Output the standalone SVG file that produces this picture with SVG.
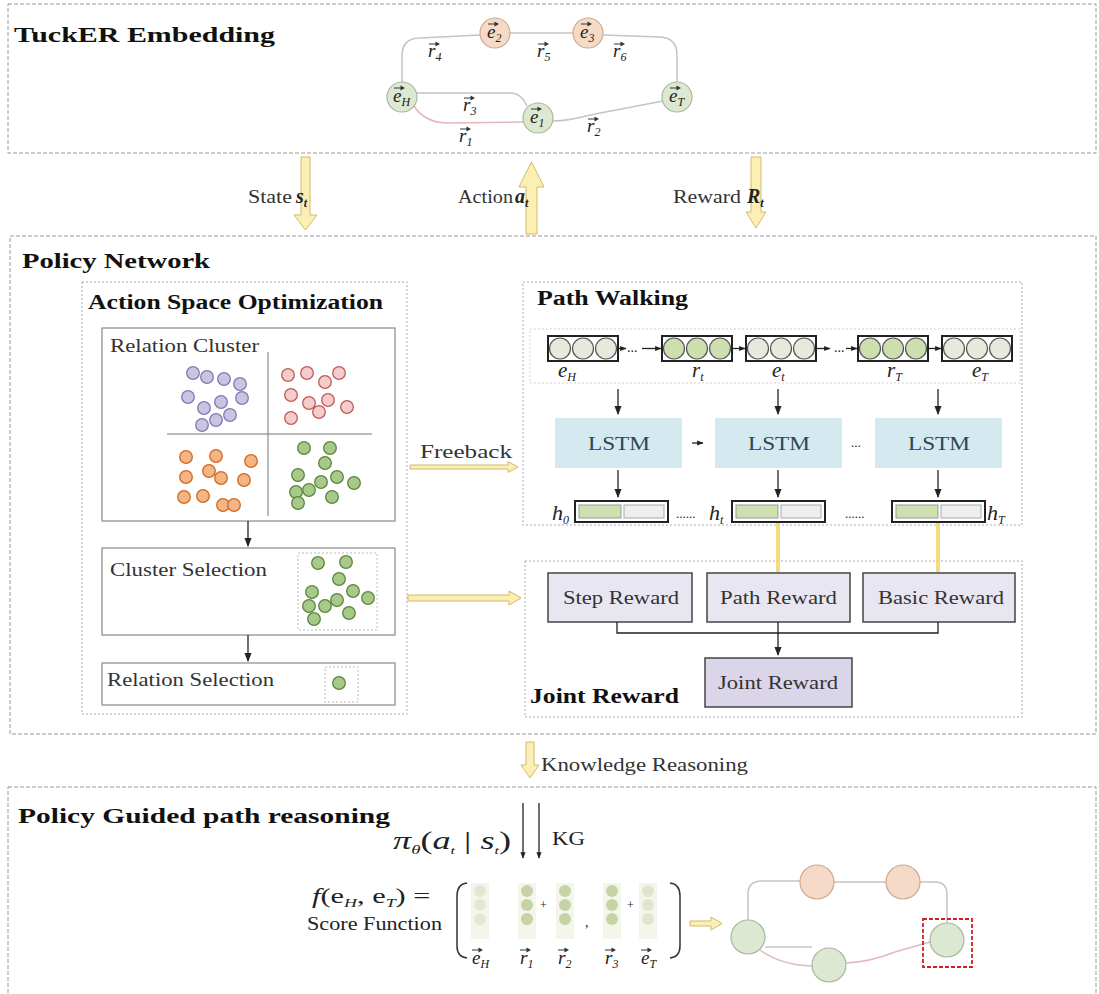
<svg xmlns="http://www.w3.org/2000/svg" xmlns:xlink="http://www.w3.org/1999/xlink" width="1099" height="994" viewBox="0 0 1099 994" font-family="'Liberation Serif', 'Times New Roman', serif">
<style>
text{font-family:"Liberation Serif","Times New Roman",serif;fill:#222}
.ttl{font-weight:bold;font-size:22px;fill:#111}
.stl{font-weight:bold;font-size:20px;fill:#111}
.lab{font-size:18px;fill:#333}
.it{font-style:italic}
.sub{font-size:12px}
.outer{fill:none;stroke:#9a9a9a;stroke-width:1;stroke-dasharray:4 2}
.inner{fill:none;stroke:#aaa;stroke-width:1;stroke-dasharray:2 2}
.sbox{fill:#fff;stroke:#888;stroke-width:1.2}
.dbox{fill:none;stroke:#bbb;stroke-width:1;stroke-dasharray:2 2}
.gn{fill:#dde8d2;stroke:#a9b99a;stroke-width:1.2}
.on{fill:#f6dac8;stroke:#cfa98f;stroke-width:1.2}
.edge{fill:none;stroke:#c4c4c4;stroke-width:1.5}
.pedge{fill:none;stroke:#e2b8c0;stroke-width:1.5}
.yarr{fill:#fcefb4;stroke:#d3b968;stroke-width:1}
.pu{fill:#c9c4e2;stroke:#8478b4;stroke-width:1.3}
.pk{fill:#f5cccc;stroke:#c05a5a;stroke-width:1.3}
.or{fill:#f3b585;stroke:#d2691e;stroke-width:1.3}
.gr{fill:#a9c98a;stroke:#5a863a;stroke-width:1.3}
.conn{fill:none;stroke:#222;stroke-width:1.3}
.lstm{fill:#d5e9f0}
.lstmt{font-size:19px;fill:#2c4654}
.chain{fill:#fff;stroke:#222;stroke-width:2}
.cl{fill:#e6eadc;stroke:#555;stroke-width:1.2}
.cg{fill:#cddfae;stroke:#555;stroke-width:1.2}
.rbox{fill:#e8e6f0;stroke:#444;stroke-width:1.5}
.jbox{fill:#dad5e8;stroke:#444;stroke-width:1.5}
.rt{font-size:19px;fill:#333}
.vl{font-style:italic;font-size:19px}
</style>
<defs>
<marker id="ah" viewBox="0 0 10 10" refX="9" refY="5" markerWidth="7" markerHeight="7" orient="auto"><path d="M0,1 L10,5 L0,9 Z" fill="#222"/></marker>
<marker id="ahs" viewBox="0 0 10 10" refX="9" refY="5" markerWidth="5" markerHeight="5" orient="auto"><path d="M0,1 L10,5 L0,9 Z" fill="#222"/></marker>
<g id="va"><path d="M0,0 H9" stroke="#333" stroke-width="1"/><path d="M6.5,-2.4 L11,0 L6.5,2.4 Z" fill="#333"/></g>
</defs>

<!-- Section frames -->
<g id="tucker-frame"><rect class="outer" x="8" y="4" width="1088" height="149"/><text class="ttl" x="14" y="42" textLength="261" lengthAdjust="spacingAndGlyphs">TuckER Embedding</text></g>
<g id="policy-frame"><rect class="outer" x="10" y="236" width="1086" height="498"/><text class="ttl" x="22" y="268" textLength="188" lengthAdjust="spacingAndGlyphs">Policy Network</text></g>
<g id="guided-frame"><rect class="outer" x="8" y="787" width="1088" height="212"/><text class="ttl" x="18" y="823" textLength="372" lengthAdjust="spacingAndGlyphs">Policy Guided path reasoning</text></g>

<!-- TuckER graph -->
<g id="tucker-edges">
<path class="edge" d="M402,82 V56 Q402,38 420,38 L480,35"/>
<path class="edge" d="M510,33 H573"/>
<path class="edge" d="M603,35 L660,37 Q677,38 677,55 V82"/>
<path class="edge" d="M417,93 L512,93 Q522,94 527,106"/>
<path class="pedge" d="M414,106 Q424,122 446,123 L523,122"/>
<path class="edge" d="M553,121 Q568,121 590,115 L663,101"/>
</g>
<g id="tucker-nodes">
<g id="t-eH"><circle class="gn" cx="402" cy="97" r="15"/><text class="vl" x="393" y="102">e<tspan class="sub" dy="4">H</tspan></text><use href="#va" x="394" y="88"/></g>
<g id="t-e2"><circle class="on" cx="495" cy="33" r="15"/><text class="vl" x="487" y="38">e<tspan class="sub" dy="4">2</tspan></text><use href="#va" x="488" y="24"/></g>
<g id="t-e3"><circle class="on" cx="588" cy="33" r="15"/><text class="vl" x="580" y="38">e<tspan class="sub" dy="4">3</tspan></text><use href="#va" x="581" y="24"/></g>
<g id="t-eT"><circle class="gn" cx="677" cy="97" r="15"/><text class="vl" x="669" y="102">e<tspan class="sub" dy="4">T</tspan></text><use href="#va" x="670" y="88"/></g>
<g id="t-e1"><circle class="gn" cx="538" cy="118" r="15"/><text class="vl" x="530" y="123">e<tspan class="sub" dy="4">1</tspan></text><use href="#va" x="531" y="109"/></g>
</g>
<g id="tucker-labels">
<text class="vl" x="428" y="57">r<tspan class="sub" dy="4">4</tspan></text><use href="#va" x="429" y="44"/>
<text class="vl" x="537" y="57">r<tspan class="sub" dy="4">5</tspan></text><use href="#va" x="538" y="44"/>
<text class="vl" x="613" y="57">r<tspan class="sub" dy="4">6</tspan></text><use href="#va" x="614" y="44"/>
<text class="vl" x="463" y="111">r<tspan class="sub" dy="4">3</tspan></text><use href="#va" x="464" y="98"/>
<text class="vl" x="459" y="142">r<tspan class="sub" dy="4">1</tspan></text><use href="#va" x="460" y="129"/>
<text class="vl" x="587" y="132">r<tspan class="sub" dy="4">2</tspan></text><use href="#va" x="588" y="119"/>
</g>

<!-- RL signals -->
<g id="signals">
<path class="yarr" d="M301,157 H310 V215 H317 L305.5,230 L294,215 H301 Z"/>
<text class="lab" x="248" y="203" textLength="44" lengthAdjust="spacingAndGlyphs">State</text>
<text class="it" x="296" y="203" font-weight="bold" font-size="20">s<tspan class="sub" dy="4">t</tspan></text>
<path class="yarr" d="M526,234 V187 H519 L531.5,162 L544,187 H537 V234 Z"/>
<text class="lab" x="458" y="203" textLength="55" lengthAdjust="spacingAndGlyphs">Action</text>
<text class="it" x="515" y="203" font-weight="bold" font-size="20">a<tspan class="sub" dy="4">t</tspan></text>
<path class="yarr" d="M751,157 H761 V212 H766 L756,228 L746,212 H751 Z"/>
<text class="lab" x="673" y="203" textLength="68" lengthAdjust="spacingAndGlyphs">Reward</text>
<text class="it" x="747" y="203" font-weight="bold" font-size="20">R<tspan class="sub" dy="4">t</tspan></text>
</g>

<!-- Action Space Optimization -->
<g id="aso">
<rect class="inner" x="82" y="282" width="325" height="432"/>
<text class="stl" x="88" y="309" textLength="295" lengthAdjust="spacingAndGlyphs">Action Space Optimization</text>
</g>
<g id="relation-cluster">
<rect class="sbox" x="102" y="328" width="293" height="193"/>
<text class="lab" x="110" y="352" fill="#444" textLength="149" lengthAdjust="spacingAndGlyphs">Relation Cluster</text>
<path d="M268,352 V516 M167,434 H372" stroke="#777" stroke-width="1" fill="none"/>
<g class="pu"><circle cx="193" cy="373" r="6.3"/><circle cx="207" cy="377" r="6.3"/><circle cx="224" cy="379" r="6.3"/><circle cx="240" cy="384" r="6.3"/><circle cx="188" cy="397" r="6.3"/><circle cx="204" cy="408" r="6.3"/><circle cx="221" cy="402" r="6.3"/><circle cx="242" cy="398" r="6.3"/><circle cx="202" cy="425" r="6.3"/><circle cx="216" cy="420" r="6.3"/><circle cx="230" cy="415" r="6.3"/></g>
<g class="pk"><circle cx="288" cy="375" r="6.3"/><circle cx="307" cy="373" r="6.3"/><circle cx="325" cy="382" r="6.3"/><circle cx="339" cy="373" r="6.3"/><circle cx="291" cy="395" r="6.3"/><circle cx="309" cy="403" r="6.3"/><circle cx="328" cy="400" r="6.3"/><circle cx="319" cy="412" r="6.3"/><circle cx="347" cy="407" r="6.3"/><circle cx="291" cy="418" r="6.3"/></g>
<g class="or"><circle cx="186" cy="457" r="6.3"/><circle cx="216" cy="456" r="6.3"/><circle cx="251" cy="461" r="6.3"/><circle cx="186" cy="477" r="6.3"/><circle cx="209" cy="471" r="6.3"/><circle cx="221" cy="478" r="6.3"/><circle cx="244" cy="480" r="6.3"/><circle cx="184" cy="497" r="6.3"/><circle cx="203" cy="496" r="6.3"/><circle cx="223" cy="505" r="6.3"/><circle cx="234" cy="505" r="6.3"/></g>
<g class="gr"><circle cx="304" cy="448" r="6.3"/><circle cx="330" cy="448" r="6.3"/><circle cx="325" cy="463" r="6.3"/><circle cx="298" cy="475" r="6.3"/><circle cx="309" cy="490" r="6.3"/><circle cx="321" cy="482" r="6.3"/><circle cx="337" cy="477" r="6.3"/><circle cx="354" cy="483" r="6.3"/><circle cx="296" cy="492" r="6.3"/><circle cx="332" cy="497" r="6.3"/><circle cx="298" cy="503" r="6.3"/></g>
</g>
<g id="cluster-selection">
<rect class="sbox" x="102" y="548" width="293" height="87"/>
<text class="lab" x="110" y="576" fill="#444" textLength="157" lengthAdjust="spacingAndGlyphs">Cluster Selection</text>
<rect class="dbox" x="298" y="553" width="79" height="77"/>
<g class="gr"><circle cx="318" cy="563" r="6.3"/><circle cx="346" cy="562" r="6.3"/><circle cx="339" cy="579" r="6.3"/><circle cx="312" cy="592" r="6.3"/><circle cx="353" cy="591" r="6.3"/><circle cx="337" cy="600" r="6.3"/><circle cx="325" cy="606" r="6.3"/><circle cx="309" cy="606" r="6.3"/><circle cx="368" cy="598" r="6.3"/><circle cx="314" cy="619" r="6.3"/><circle cx="349" cy="613" r="6.3"/></g>
</g>
<g id="relation-selection">
<rect class="sbox" x="102" y="663" width="293" height="42"/>
<text class="lab" x="107" y="686" fill="#444" textLength="167" lengthAdjust="spacingAndGlyphs">Relation Selection</text>
<rect class="dbox" x="325" y="667" width="33" height="35"/>
<circle class="gr" cx="339" cy="683" r="6.3"/>
</g>

<!-- Path Walking -->
<g id="path-walking">
<rect class="inner" x="523" y="282" width="499" height="243"/>
<text class="stl" x="537" y="305" textLength="151" lengthAdjust="spacingAndGlyphs">Path Walking</text>
<rect x="530" y="329" width="490" height="54" fill="none" stroke="#d0d0d0" stroke-width="1" stroke-dasharray="2 2"/>
</g>
<g id="chain">
<rect class="chain" x="548" y="336" width="70" height="25"/><circle class="cl" cx="560" cy="348.5" r="10.5"/><circle class="cl" cx="583" cy="348.5" r="10.5"/><circle class="cl" cx="606" cy="348.5" r="10.5"/>
<rect class="chain" x="662" y="336" width="70" height="25"/><circle class="cg" cx="674" cy="348.5" r="10.5"/><circle class="cg" cx="697" cy="348.5" r="10.5"/><circle class="cg" cx="720" cy="348.5" r="10.5"/>
<rect class="chain" x="746" y="336" width="70" height="25"/><circle class="cl" cx="758" cy="348.5" r="10.5"/><circle class="cl" cx="781" cy="348.5" r="10.5"/><circle class="cl" cx="804" cy="348.5" r="10.5"/>
<rect class="chain" x="858" y="336" width="70" height="25"/><circle class="cg" cx="870" cy="348.5" r="10.5"/><circle class="cg" cx="893" cy="348.5" r="10.5"/><circle class="cg" cx="916" cy="348.5" r="10.5"/>
<rect class="chain" x="942" y="336" width="70" height="25"/><circle class="cl" cx="954" cy="348.5" r="10.5"/><circle class="cl" cx="977" cy="348.5" r="10.5"/><circle class="cl" cx="1000" cy="348.5" r="10.5"/>
<text class="it" x="558" y="377" font-size="21">e<tspan class="sub" dy="4">H</tspan></text>
<text class="it" x="692" y="377" font-size="21">r<tspan class="sub" dy="4">t</tspan></text>
<text class="it" x="772" y="377" font-size="21">e<tspan class="sub" dy="4">t</tspan></text>
<text class="it" x="887" y="377" font-size="21">r<tspan class="sub" dy="4">T</tspan></text>
<text class="it" x="972" y="377" font-size="21">e<tspan class="sub" dy="4">T</tspan></text>
<text x="627" y="352" font-size="14">...</text>
<text x="834" y="352" font-size="14">...</text>
</g>
<g id="lstm1"><rect class="lstm" x="555" y="418" width="127" height="50"/><text class="lstmt" x="588" y="450" textLength="62" lengthAdjust="spacingAndGlyphs">LSTM</text></g>
<g id="lstm2"><rect class="lstm" x="715" y="418" width="127" height="50"/><text class="lstmt" x="748" y="450" textLength="62" lengthAdjust="spacingAndGlyphs">LSTM</text></g>
<g id="lstm3"><rect class="lstm" x="875" y="418" width="127" height="50"/><text class="lstmt" x="908" y="450" textLength="62" lengthAdjust="spacingAndGlyphs">LSTM</text></g>
<text x="851" y="447" font-size="13" fill="#555">...</text>
<g id="hidden">
<rect class="chain" x="575" y="501" width="93" height="21"/><rect x="579" y="505" width="42" height="13" fill="#cfe0b0" stroke="#999"/><rect x="624" y="505" width="40" height="13" fill="#eee" stroke="#aaa"/>
<rect class="chain" x="732" y="501" width="93" height="21"/><rect x="736" y="505" width="42" height="13" fill="#cfe0b0" stroke="#999"/><rect x="781" y="505" width="40" height="13" fill="#eee" stroke="#aaa"/>
<rect class="chain" x="892" y="501" width="93" height="21"/><rect x="896" y="505" width="42" height="13" fill="#cfe0b0" stroke="#999"/><rect x="941" y="505" width="40" height="13" fill="#eee" stroke="#aaa"/>
<text class="it" x="552" y="520" font-size="22">h<tspan class="sub" dy="4">0</tspan></text>
<text x="676" y="518" font-size="13">......</text>
<text class="it" x="709" y="520" font-size="22">h<tspan class="sub" dy="4">t</tspan></text>
<text x="845" y="518" font-size="13">......</text>
<text class="it" x="987" y="520" font-size="22">h<tspan class="sub" dy="4">T</tspan></text>
</g>

<!-- Joint Reward -->
<g id="joint-reward-frame">
<rect class="inner" x="525" y="561" width="497" height="156"/>
<text class="stl" x="530" y="703" textLength="149" lengthAdjust="spacingAndGlyphs">Joint Reward</text>
</g>
<g id="step-reward"><rect class="rbox" x="548" y="573" width="144" height="49"/><text class="rt" x="563" y="604" textLength="116" lengthAdjust="spacingAndGlyphs">Step Reward</text></g>
<g id="path-reward"><rect class="rbox" x="707" y="573" width="143" height="49"/><text class="rt" x="720" y="604" textLength="117" lengthAdjust="spacingAndGlyphs">Path Reward</text></g>
<g id="basic-reward"><rect class="rbox" x="863" y="573" width="152" height="49"/><text class="rt" x="878" y="604" textLength="126" lengthAdjust="spacingAndGlyphs">Basic Reward</text></g>
<g id="joint-reward"><rect class="jbox" x="705" y="658" width="147" height="49"/><text class="rt" x="718" y="689" textLength="120" lengthAdjust="spacingAndGlyphs">Joint Reward</text></g>

<!-- Connectors -->
<g id="connectors">
<path class="conn" d="M248,521 V546" marker-end="url(#ah)"/>
<path class="conn" d="M248,635 V661" marker-end="url(#ah)"/>
<path class="conn" d="M618,348.5 H626" marker-end="url(#ahs)"/>
<path class="conn" d="M642,348.5 H661" marker-end="url(#ahs)"/>
<path class="conn" d="M732,348.5 H745" marker-end="url(#ahs)"/>
<path class="conn" d="M816,348.5 H830" marker-end="url(#ahs)"/>
<path class="conn" d="M846,348.5 H857" marker-end="url(#ahs)"/>
<path class="conn" d="M928,348.5 H941" marker-end="url(#ahs)"/>
<path class="conn" d="M618,389 V414" marker-end="url(#ah)"/>
<path class="conn" d="M778,389 V414" marker-end="url(#ah)"/>
<path class="conn" d="M938,389 V414" marker-end="url(#ah)"/>
<path class="conn" d="M618,470 V497" marker-end="url(#ah)"/>
<path class="conn" d="M778,470 V497" marker-end="url(#ah)"/>
<path class="conn" d="M938,470 V497" marker-end="url(#ah)"/>
<path class="conn" d="M692,443 H703" marker-end="url(#ahs)" stroke="#666"/>
<path d="M778,523 V572 M938,523 V572" stroke="#f4d36a" stroke-width="4" fill="none" opacity="0.85"/>
<path class="conn" d="M617,622 V633 H938 V622" stroke="#444"/>
<path class="conn" d="M778,622 V655" marker-end="url(#ah)"/>
<path class="yarr" d="M410,465 H508 V461.5 L518,467 L508,472.5 V469 H410 Z"/>
<text class="lab" x="420" y="458" font-size="19" textLength="92" lengthAdjust="spacingAndGlyphs">Freeback</text>
<path class="yarr" d="M408,595 H509 V591 L521,598 L509,605 V601 H408 Z"/>
<path class="yarr" d="M526,742 H534 V765 H539 L530,778 L521,765 H526 Z"/>
<text class="lab" x="541" y="771" textLength="207" lengthAdjust="spacingAndGlyphs">Knowledge Reasoning</text>
<path class="conn" d="M523,803 V858" marker-end="url(#ahs)"/>
<path class="conn" d="M539,803 V858" marker-end="url(#ahs)"/>
<path class="yarr" d="M690,921 H711 V917 L722,923.5 L711,930 V926 H690 Z"/>
</g>

<!-- Score function -->
<g id="score-function">
<text transform="translate(393,849) scale(1.45,1)" font-size="25"><tspan class="it">π</tspan><tspan class="it" font-size="13" dy="5">θ</tspan><tspan dy="-5">(</tspan><tspan class="it">a</tspan><tspan class="it" font-size="11" dy="5">t</tspan><tspan dy="-5"> | </tspan><tspan class="it">s</tspan><tspan class="it" font-size="11" dy="5">t</tspan><tspan dy="-5">)</tspan></text>
<text x="552" y="845" font-size="19" fill="#333" textLength="33" lengthAdjust="spacingAndGlyphs">KG</text>
<text transform="translate(312,903) scale(1.38,1)" font-size="22"><tspan class="it">f</tspan>(e<tspan class="it" font-size="13" dy="4">H</tspan><tspan dy="-4">, e</tspan><tspan class="it" font-size="13" dy="4">T</tspan><tspan dy="-4">) =</tspan></text>
<text x="307" y="930" font-size="18" fill="#333" textLength="135" lengthAdjust="spacingAndGlyphs">Score Function</text>
<path d="M467,883 Q457,884 457,896 V946 Q457,957 467,958" fill="none" stroke="#333" stroke-width="1.5"/>
<path d="M670,883 Q680,884 680,896 V946 Q680,957 670,958" fill="none" stroke="#333" stroke-width="1.5"/>
<g fill="#f4f6ec"><rect x="471" y="883" width="18" height="56"/><rect x="518" y="883" width="18" height="56"/><rect x="556" y="883" width="18" height="56"/><rect x="603" y="883" width="18" height="56"/><rect x="639" y="883" width="18" height="56"/></g>
<g fill="#e2e8d2"><circle cx="480" cy="891" r="6"/><circle cx="480" cy="905" r="6"/><circle cx="480" cy="919" r="6"/></g>
<g fill="#c6d3a6"><circle cx="527" cy="891" r="6"/><circle cx="527" cy="905" r="6"/><circle cx="527" cy="919" r="6"/><circle cx="565" cy="891" r="6"/><circle cx="565" cy="905" r="6"/><circle cx="565" cy="919" r="6"/><circle cx="612" cy="891" r="6"/><circle cx="612" cy="905" r="6"/><circle cx="612" cy="919" r="6"/></g>
<g fill="#dfe5cf"><circle cx="648" cy="891" r="6"/><circle cx="648" cy="905" r="6"/><circle cx="648" cy="919" r="6"/></g>
<text x="540" y="909" font-size="12" fill="#888">+</text>
<text x="627" y="909" font-size="12" fill="#888">+</text>
<text x="585" y="927" font-size="14" fill="#555">,</text>
<text class="vl" x="472" y="964" font-size="16">e<tspan class="sub" dy="4">H</tspan></text><use href="#va" x="472" y="950"/>
<text class="vl" x="520" y="964" font-size="16">r<tspan class="sub" dy="4">1</tspan></text><use href="#va" x="520" y="950"/>
<text class="vl" x="558" y="964" font-size="16">r<tspan class="sub" dy="4">2</tspan></text><use href="#va" x="558" y="950"/>
<text class="vl" x="605" y="964" font-size="16">r<tspan class="sub" dy="4">3</tspan></text><use href="#va" x="605" y="950"/>
<text class="vl" x="641" y="964" font-size="16">e<tspan class="sub" dy="4">T</tspan></text><use href="#va" x="641" y="950"/>
</g>

<!-- Result graph -->
<g id="result-edges">
<path class="edge" d="M748,920 V894 Q748,881 762,881 L800,881"/>
<path class="edge" d="M834,882 H886"/>
<path class="edge" d="M920,882 L935,882 Q947,882 947,895 V923"/>
<path class="edge" d="M765,947 L812,947"/>
<path class="pedge" d="M760,950 Q780,965 812,966"/>
<path class="pedge" d="M846,963 Q870,962 895,952 L930,942"/>
</g>
<g id="result-nodes">
<circle id="r-eH" class="gn" cx="748" cy="937" r="17"/>
<circle id="r-e2" class="on" cx="817" cy="882" r="17"/>
<circle id="r-e3" class="on" cx="903" cy="882" r="17"/>
<circle id="r-e1" class="gn" cx="829" cy="965" r="17"/>
<circle id="r-eT" class="gn" cx="947" cy="940" r="17"/>
<rect x="923" y="919" width="49" height="48" fill="none" stroke="#d02020" stroke-width="1.8" stroke-dasharray="4 2"/>
</g>
</svg>
